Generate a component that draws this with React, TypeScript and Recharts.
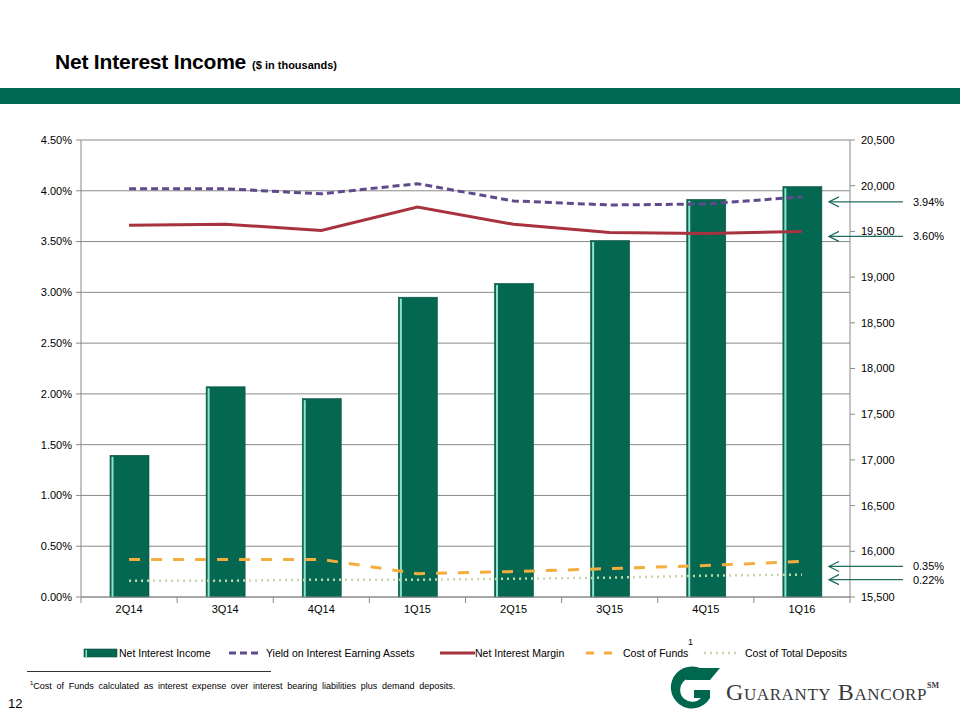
import React from 'react'
import {
  ComposedChart,
  Bar,
  Line,
  XAxis,
  YAxis,
  CartesianGrid,
  ReferenceDot,
} from 'recharts'

const quarters = ['2Q14', '3Q14', '4Q14', '1Q15', '2Q15', '3Q15', '4Q15', '1Q16']
const netInterestIncome = [17050, 17800, 17670, 18780, 18930, 19400, 19850, 19990]
const yieldOnAssets = [4.02, 4.02, 3.97, 4.07, 3.9, 3.86, 3.87, 3.94]
const netInterestMargin = [3.66, 3.67, 3.61, 3.84, 3.67, 3.59, 3.58, 3.6]
const costOfFunds = [0.37, 0.37, 0.37, 0.23, 0.25, 0.28, 0.31, 0.35]
const costOfDeposits = [0.16, 0.16, 0.17, 0.17, 0.18, 0.19, 0.21, 0.22]

const leftTicks = [0, 0.5, 1, 1.5, 2, 2.5, 3, 3.5, 4, 4.5]
const rightTicks = [15500, 16000, 16500, 17000, 17500, 18000, 18500, 19000, 19500, 20000, 20500]
const callouts = [
  { value: 3.94, label: '3.94%' },
  { value: 3.6, label: '3.60%' },
  { value: 0.35, label: '0.35%' },
  { value: 0.22, label: '0.22%' },
]

const data = quarters.map((q, i) => ({
  quarter: q,
  nii: netInterestIncome[i],
  yieldAssets: yieldOnAssets[i],
  nim: netInterestMargin[i],
  cof: costOfFunds[i],
  cod: costOfDeposits[i],
}))

const FONT = '"Liberation Sans", Arial, sans-serif'
const GREEN = '#00674f'
const GRID = '#8a8a8a'

function BarShape(props: any) {
  const { x, y, width, height } = props
  if (!height || height <= 0) return null
  return (
    <g>
      <rect x={x} y={y} width={width} height={height} fill="#046752" stroke="#0d4f41" strokeWidth={0.6} />
      <rect x={x + 1.5} y={y + 1.5} width={2} height={height - 1.5} fill="#8fe2cd" />
    </g>
  )
}

function QuarterTick(props: any) {
  const { x, y, payload, index, width, visibleTicksCount } = props
  const half = width / visibleTicksCount / 2
  const axisY = y - 8
  const last = index === visibleTicksCount - 1
  return (
    <g>
      <line x1={x - half} x2={x - half} y1={axisY} y2={axisY + 6} stroke={GRID} />
      {last && <line x1={x + half} x2={x + half} y1={axisY} y2={axisY + 6} stroke={GRID} />}
      <text x={x} y={y} dy="0.71em" textAnchor="middle" fontSize={11} fontFamily={FONT} fill="#000">
        {payload.value}
      </text>
    </g>
  )
}

function Callout(label: string) {
  return (props: any) => {
    const { cx, cy } = props
    const y = cy + 5
    const x0 = cx + 27
    return (
      <g>
        <line x1={x0} x2={x0 + 74} y1={y} y2={y} stroke="#1f6b5c" strokeWidth={1.2} />
        <polyline
          points={`${x0 + 10},${y - 5} ${x0},${y} ${x0 + 10},${y + 5}`}
          fill="none"
          stroke="#1f6b5c"
          strokeWidth={1.2}
        />
        <text x={x0 + 84} y={y} dy="0.35em" fontSize={11} fontFamily={FONT} fill="#000">
          {label}
        </text>
      </g>
    )
  }
}

function LegendRow() {
  const ty = 657
  const t = { fontSize: 10.5, fontFamily: FONT, fill: '#000' }
  return (
    <svg width={960} height={34} style={{ position: 'absolute', left: 0, top: 634 }} viewBox="0 634 960 34">
      <rect x={84} y={649} width={33} height={8} fill="#046752" stroke="#0d4f41" strokeWidth={0.6} />
      <rect x={85.5} y={650} width={1.5} height={7} fill="#8fe2cd" />
      <text x={119} y={ty} {...t}>Net Interest Income</text>
      <line x1={229} x2={262} y1={653} y2={653} stroke="#5f4b8b" strokeWidth={3} strokeDasharray="7 4" />
      <text x={266} y={ty} {...t}>Yield on Interest Earning Assets</text>
      <line x1={440} x2={475} y1={653} y2={653} stroke="#a8323e" strokeWidth={3} />
      <text x={475} y={ty} {...t}>Net Interest Margin</text>
      <line x1={586} x2={617} y1={653} y2={653} stroke="#f4ae3d" strokeWidth={3} strokeDasharray="8 10" />
      <text x={623} y={ty} {...t}>Cost of Funds</text>
      <text x={688} y={645} fontSize={9} fontFamily={FONT}>1</text>
      <line x1={704} x2={737} y1={653} y2={653} stroke="#c3d9a8" strokeWidth={2.5} strokeDasharray="2 4" />
      <text x={745} y={ty} {...t}>Cost of Total Deposits</text>
    </svg>
  )
}

function Logo() {
  return (
    <svg width={290} height={56} style={{ position: 'absolute', left: 664, top: 664 }}>
      <path
        d="M44 10 A21 21 0 1 0 46 34 L46 26 L30 26 L30 34 L37 34 A12 12 0 1 1 35 16 Z"
        fill={GREEN}
      />
      <path d="M30 4 L56 4 L46 16 L22 16 Z" fill={GREEN} />
      <text
        x={62}
        y={36}
        fontSize={24}
        fontFamily='"Liberation Serif", "Times New Roman", serif'
        fill="#3a3a3a"
        style={{ fontVariant: 'small-caps', letterSpacing: 0.6 }}
      >
        Guaranty Bancorp
      </text>
      <text x={263} y={24} fontSize={8} fontWeight="bold" fontFamily='"Liberation Serif", serif' fill="#3a3a3a">
        SM
      </text>
    </svg>
  )
}

export default function App() {
  return (
    <div style={{ position: 'absolute', left: 0, top: 0, width: 960, height: 720, background: '#fff', fontFamily: FONT }}>
      <div style={{ position: 'absolute', left: 55, top: 50, whiteSpace: 'nowrap' }}>
        <span style={{ fontSize: 21, fontWeight: 'bold', letterSpacing: -0.2 }}>Net Interest Income</span>
        <span style={{ fontSize: 11, fontWeight: 'bold', marginLeft: 6 }}>($ in thousands)</span>
      </div>
      <div style={{ position: 'absolute', left: 0, top: 88, width: 960, height: 16, background: '#016853' }} />

      <div style={{ position: 'absolute', left: 0, top: 0 }}>
        <ComposedChart width={960} height={720} data={data} margin={{ top: 140, right: 0, bottom: 93, left: 0 }}>
          <CartesianGrid yAxisId="left" vertical={false} stroke={GRID} strokeWidth={1} />
          <XAxis
            dataKey="quarter"
            height={30}
            stroke={GRID}
            tickLine={false}
            tickSize={0}
            tickMargin={8}
            tick={<QuarterTick />}
            interval={0}
          />
          <YAxis
            yAxisId="left"
            width={81}
            domain={[0, 4.5]}
            ticks={leftTicks}
            tickFormatter={(v: number) => v.toFixed(2) + '%'}
            stroke={GRID}
            tickSize={5}
            tickMargin={4}
            tick={{ fill: '#000', fontSize: 11, fontFamily: FONT }}
          />
          <YAxis
            yAxisId="right"
            orientation="right"
            width={110}
            domain={[15500, 20500]}
            ticks={rightTicks}
            tickFormatter={(v: number) => v.toLocaleString('en-US')}
            stroke={GRID}
            tickSize={5}
            tickMargin={6}
            tick={{ fill: '#000', fontSize: 11, fontFamily: FONT }}
          />
          <Bar yAxisId="right" dataKey="nii" barSize={39} shape={<BarShape />} isAnimationActive={false} />
          <Line yAxisId="left" dataKey="yieldAssets" stroke="#5f4b8b" strokeWidth={3} strokeDasharray="7 4" dot={false} type="linear" isAnimationActive={false} />
          <Line yAxisId="left" dataKey="nim" stroke="#a8323e" strokeWidth={3} dot={false} type="linear" isAnimationActive={false} />
          <Line yAxisId="left" dataKey="cof" stroke="#f4ae3d" strokeWidth={3} strokeDasharray="11 11" dot={false} type="linear" isAnimationActive={false} />
          <Line yAxisId="left" dataKey="cod" stroke="#c3d9a8" strokeWidth={2.5} strokeDasharray="2 4" dot={false} type="linear" isAnimationActive={false} />
          {callouts.map((c) => (
            <ReferenceDot
              key={c.label}
              yAxisId="left"
              x={quarters[quarters.length - 1]}
              y={c.value}
              r={0}
              ifOverflow="visible"
              shape={Callout(c.label)}
            />
          ))}
        </ComposedChart>
      </div>

      <LegendRow />

      <div style={{ position: 'absolute', left: 27, top: 671, width: 244, height: 1, background: '#333' }} />
      <div style={{ position: 'absolute', left: 30, top: 680, fontSize: 9, wordSpacing: 2.2, whiteSpace: 'nowrap' }}>
        <sup style={{ fontSize: 6 }}>1</sup>Cost of Funds calculated as interest expense over interest bearing liabilities plus demand deposits.
      </div>
      <div style={{ position: 'absolute', left: 8, top: 696, fontSize: 13 }}>12</div>
      <Logo />
    </div>
  )
}
